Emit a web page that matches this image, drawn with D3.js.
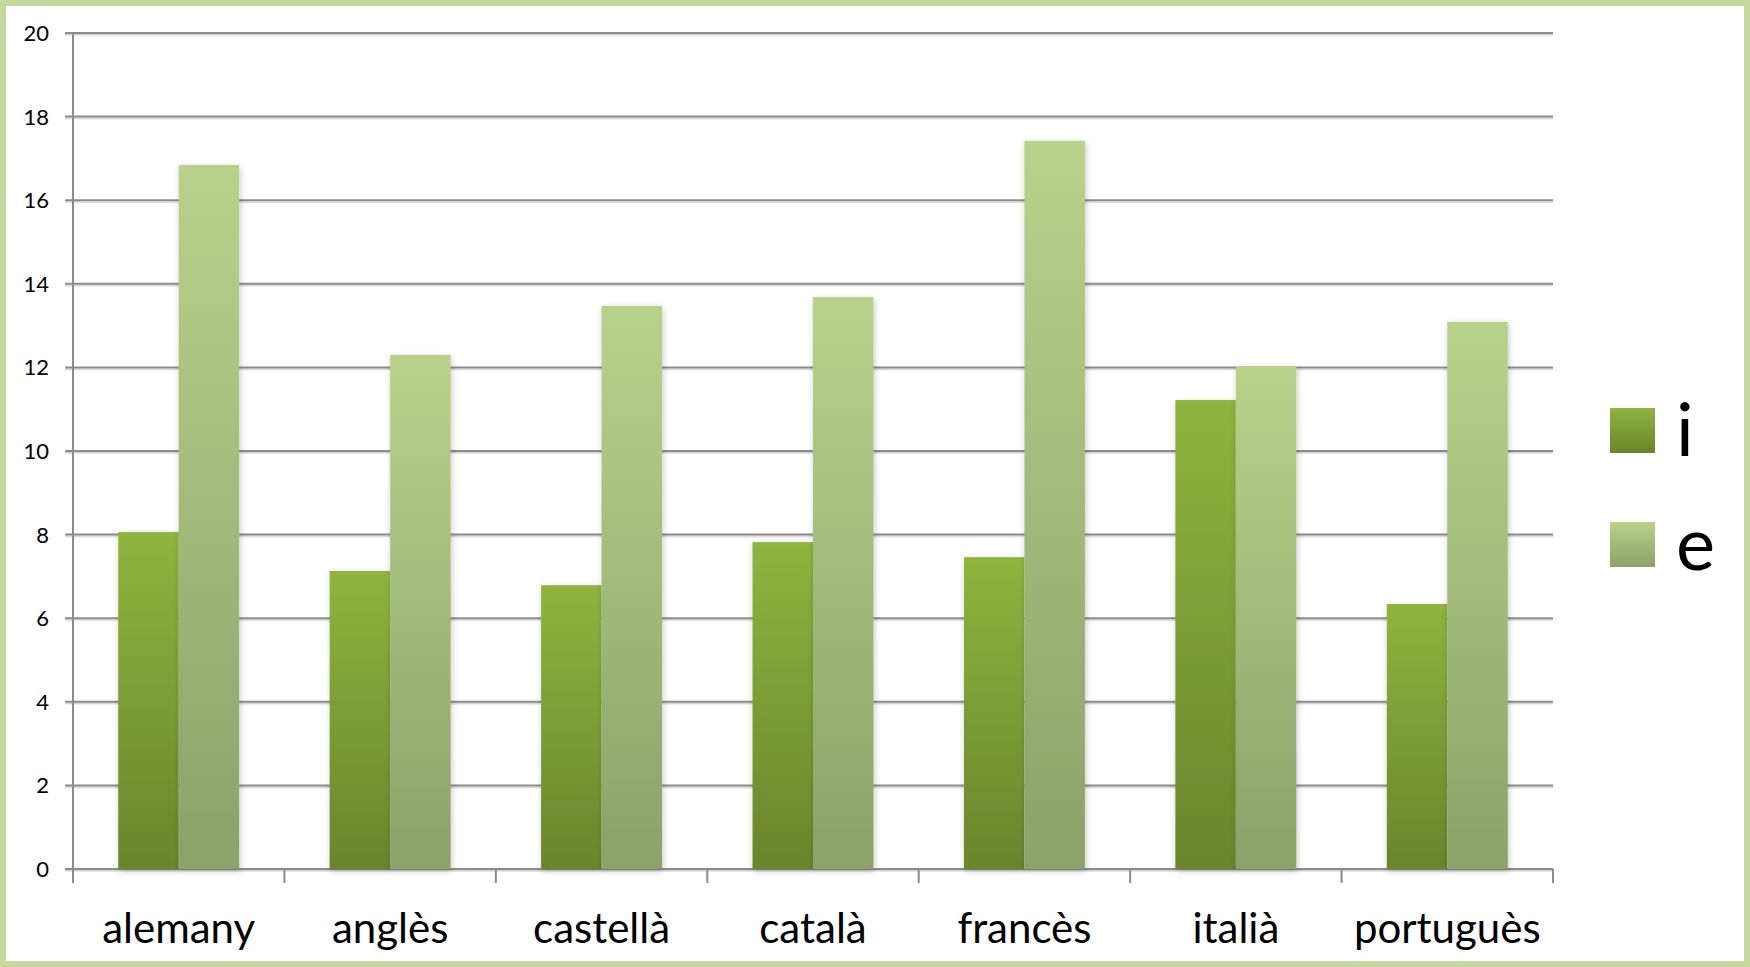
<!DOCTYPE html>
<html>
<head>
<meta charset="utf-8">
<script src="https://cdn.jsdelivr.net/npm/d3@7"></script>
<style>
  html, body { margin: 0; padding: 0; background: #fff; }
  svg { display: block; }
  text { font-family: "Lato", "Open Sans", sans-serif; fill: #000; }
</style>
</head>
<body>
<svg id="chart" width="1750" height="967"></svg>
<script>
const categories = ["alemany", "anglès", "castellà", "català", "francès", "italià", "portuguès"];
const seriesNames = ["i", "e"];
const valuesI = [8.06, 7.13, 6.79, 7.82, 7.46, 11.22, 6.34];
const valuesE = [16.84, 12.30, 13.47, 13.68, 17.42, 12.03, 13.09];
const yTicks = [0, 2, 4, 6, 8, 10, 12, 14, 16, 18, 20];

const W = 1750, H = 967;
const plot = { left: 73, right: 1553, top: 33, bottom: 869 };

const svg = d3.select("#chart");
const defs = svg.append("defs");

function grad(id, top, bottom) {
  const g = defs.append("linearGradient").attr("id", id)
    .attr("x1", 0).attr("y1", 0).attr("x2", 0).attr("y2", 1);
  g.append("stop").attr("offset", "0%").attr("stop-color", top);
  g.append("stop").attr("offset", "100%").attr("stop-color", bottom);
}
grad("gI", "#8fb43f", "#69852c");
grad("gE", "#b8d28b", "#8ba269");
const fills = { i: "url(#gI)", e: "url(#gE)" };

const f = defs.append("filter").attr("id", "shadow")
  .attr("x", "-20%").attr("y", "-5%").attr("width", "140%").attr("height", "110%");
f.append("feDropShadow").attr("dx", 1).attr("dy", 2).attr("stdDeviation", 3)
  .attr("flood-color", "#000").attr("flood-opacity", 0.22);

const gf = defs.append("filter").attr("id", "lineShadow")
  .attr("x", "0").attr("y", "-200%").attr("width", "100%").attr("height", "500%");
gf.append("feDropShadow").attr("dx", 0).attr("dy", 1.5).attr("stdDeviation", 0.6)
  .attr("flood-color", "#000").attr("flood-opacity", 0.18);

// Border frame
svg.append("rect").attr("x", 3).attr("y", 3).attr("width", W - 6).attr("height", H - 6)
  .attr("fill", "#fff").attr("stroke", "#c5d99e").attr("stroke-width", 6);

const x0 = d3.scaleBand().domain(categories).range([plot.left, plot.right])
  .paddingInner(0.428).paddingOuter(0.214);
const x1 = d3.scaleBand().domain(seriesNames).range([0, x0.bandwidth()]);
const y = d3.scaleLinear().domain([0, 20]).range([plot.bottom, plot.top]);

// Gridlines
const grid = svg.append("g").attr("filter", "url(#lineShadow)");
grid.selectAll("line").data(yTicks).join("line")
  .attr("x1", plot.left - 8).attr("x2", plot.right)
  .attr("y1", d => y(d)).attr("y2", d => y(d))
  .attr("stroke", "#8c8c8c").attr("stroke-width", 2);

// Y axis line
svg.append("line").attr("x1", plot.left).attr("x2", plot.left)
  .attr("y1", plot.top).attr("y2", plot.bottom + 14)
  .attr("stroke", "#8c8c8c").attr("stroke-width", 2);

// Y labels
svg.append("g").selectAll("text").data(yTicks).join("text")
  .attr("x", 49).attr("y", d => y(d)).attr("dy", "0.36em")
  .attr("text-anchor", "end").attr("font-size", 22)
  .text(d => d);

// X ticks at category boundaries
const bounds = categories.map((c, i) => plot.left + i * x0.step());
bounds.push(plot.right);
svg.append("g").selectAll("line").data(bounds).join("line")
  .attr("x1", d => d).attr("x2", d => d)
  .attr("y1", plot.bottom).attr("y2", plot.bottom + 14)
  .attr("stroke", "#8c8c8c").attr("stroke-width", 2);

// Bars
const rows = categories.map((c, k) => ({ cat: c, i: valuesI[k], e: valuesE[k] }));
const groups = svg.append("g").selectAll("g").data(rows).join("g")
  .attr("transform", d => `translate(${x0(d.cat)},0)`);
groups.selectAll("rect").data(d => seriesNames.map(s => ({ s, v: d[s] }))).join("rect")
  .attr("x", d => x1(d.s)).attr("width", x1.bandwidth())
  .attr("y", d => y(d.v)).attr("height", d => y(0) - y(d.v))
  .attr("fill", d => fills[d.s]).attr("filter", "url(#shadow)");

// X labels
svg.append("g").selectAll("text").data(categories).join("text")
  .attr("x", d => x0(d) + x0.bandwidth() / 2).attr("y", 943)
  .attr("text-anchor", "middle").attr("font-size", 42)
  .text(d => d);

// Legend
const legend = svg.append("g");
const legY = [408, 522];
seriesNames.forEach((s, k) => {
  legend.append("rect").attr("x", 1610).attr("y", legY[k]).attr("width", 45).attr("height", 45)
    .attr("fill", fills[s]);
  legend.append("text").attr("x", 1676).attr("y", legY[k] + 48)
    .attr("font-size", 74).text(s);
});
</script>
</body>
</html>
